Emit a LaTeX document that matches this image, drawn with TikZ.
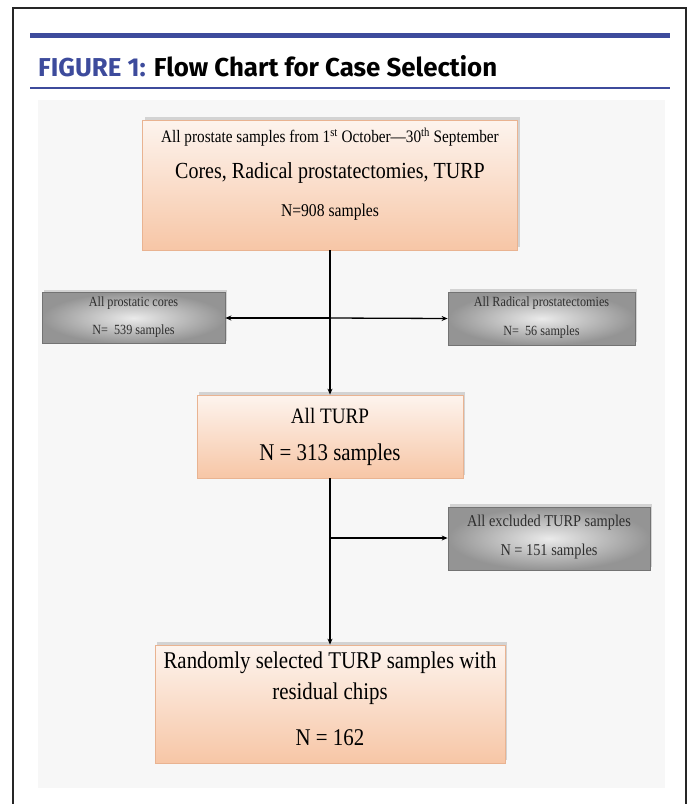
\documentclass[tikz,border=0pt]{standalone}
\usepackage{fontspec}
\setmainfont{Liberation Serif}
\newfontfamily\titlefont{Fira Sans}
\usetikzlibrary{arrows.meta,shadows}
\definecolor{figblue}{HTML}{3D4B9C}
\definecolor{peachtop}{HTML}{FDF4EE}
\definecolor{peachbot}{HTML}{F7C6A6}
\definecolor{peachline}{HTML}{E9B391}
\definecolor{panelbg}{HTML}{F7F7F7}
\newcommand\sqz[1]{\scalebox{0.87}[1]{#1}}
\tikzset{
  peachbox/.style={draw=peachline, line width=0.8pt, top color=peachtop, bottom color=peachbot,
    drop shadow={opacity=0.3, shadow xshift=2pt, shadow yshift=3pt}, inner sep=0pt},
  greybox/.style={draw=black!55, line width=0.8pt, inner color=black!8, outer color=black!42,
    drop shadow={opacity=0.3, shadow xshift=2pt, shadow yshift=3pt}, inner sep=0pt},
  txt/.style={inner sep=0pt, anchor=center},
  gtxt/.style={txt, text=black!82},
  conn/.style={line width=1.3pt, black},
  arr/.style={conn, -{Stealth[length=6pt,width=5pt]}},
}
\begin{document}
\begin{tikzpicture}[x=1pt,y=-1pt]
\useasboundingbox (0,0) rectangle (690,804);
% frame
\draw[line width=2pt, black!85] (13,804) -- (13,8) -- (686,8) -- (686,804);
% title rules
\draw[line width=4.5pt, figblue] (30,35.5) -- (670,35.5);
\draw[line width=2pt, figblue] (30,88) -- (670,88);
\node[anchor=base west, inner sep=0pt] (title) at (38,76)
  {\resizebox{459pt}{21pt}{\titlefont\bfseries\textcolor{figblue}{FIGURE 1:} Flow Chart for Case Selection}};
% panel
\fill[panelbg] (38,100) rectangle (665,788);

% boxes
\node[peachbox, minimum width=375pt, minimum height=130pt] (top) at (330,185) {};
\node[greybox, minimum width=183pt, minimum height=51pt] (left) at (133.5,318) {};
\node[greybox, minimum width=187pt, minimum height=53pt] (right) at (541.5,318.5) {};
\node[peachbox, minimum width=266pt, minimum height=83pt] (turp) at (330,436.5) {};
\node[greybox, minimum width=202pt, minimum height=63pt] (excl) at (549,538.5) {};
\node[peachbox, minimum width=350pt, minimum height=118pt] (final) at (330,704) {};

% texts
\node[txt, font=\fontsize{17.5}{19}\selectfont] (ta) at (330,137) {\sqz{All prostate samples from 1\textsuperscript{st} October---30\textsuperscript{th} September}};
\node[txt, font=\fontsize{23}{25}\selectfont] (tb) at (330,173) {\sqz{Cores, Radical prostatectomies, TURP}};
\node[txt, font=\fontsize{18}{20}\selectfont] (tc) at (330,212) {\sqz{N=908 samples}};

\node[gtxt, font=\fontsize{14}{15}\selectfont] (la) at (133.5,303) {\sqz{All prostatic cores}};
\node[gtxt, font=\fontsize{14}{15}\selectfont] (lb) at (133.5,331) {\sqz{N=\enspace539 samples}};

\node[gtxt, font=\fontsize{14}{15}\selectfont] (ra) at (541.5,303) {\sqz{All Radical prostatectomies}};
\node[gtxt, font=\fontsize{14}{15}\selectfont] (rb) at (541.5,332) {\sqz{N=\enspace56 samples}};

\node[txt, font=\fontsize{22}{24}\selectfont] (ua) at (330,416) {\sqz{All TURP}};
\node[txt, font=\fontsize{24}{26}\selectfont] (ub) at (330,455) {\sqz{N = 313 samples}};

\node[gtxt, font=\fontsize{16.5}{18}\selectfont] (ea) at (549,523) {\sqz{All excluded TURP samples}};
\node[gtxt, font=\fontsize{16.5}{18}\selectfont] (eb) at (549,552) {\sqz{N = 151 samples}};

\node[txt, font=\fontsize{24}{26}\selectfont] (fa) at (330,663) {\sqz{Randomly selected TURP samples with}};
\node[txt, font=\fontsize{24}{26}\selectfont] (fb) at (330,694) {\sqz{residual chips}};
\node[txt, font=\fontsize{24}{26}\selectfont] (fc) at (330,738) {\sqz{N = 162}};

% connectors
\coordinate (j1) at (330,318);
\coordinate (j2) at (330,538);
\draw[arr] (top.south) -- (turp.north);
\draw[arr] (j1) -- (left.east);
\draw[arr] (j1) -- (right.west);
\draw[arr] (turp.south) -- (final.north);
\draw[arr] (j2) -- (j2 -| excl.west);
\end{tikzpicture}
\end{document}
